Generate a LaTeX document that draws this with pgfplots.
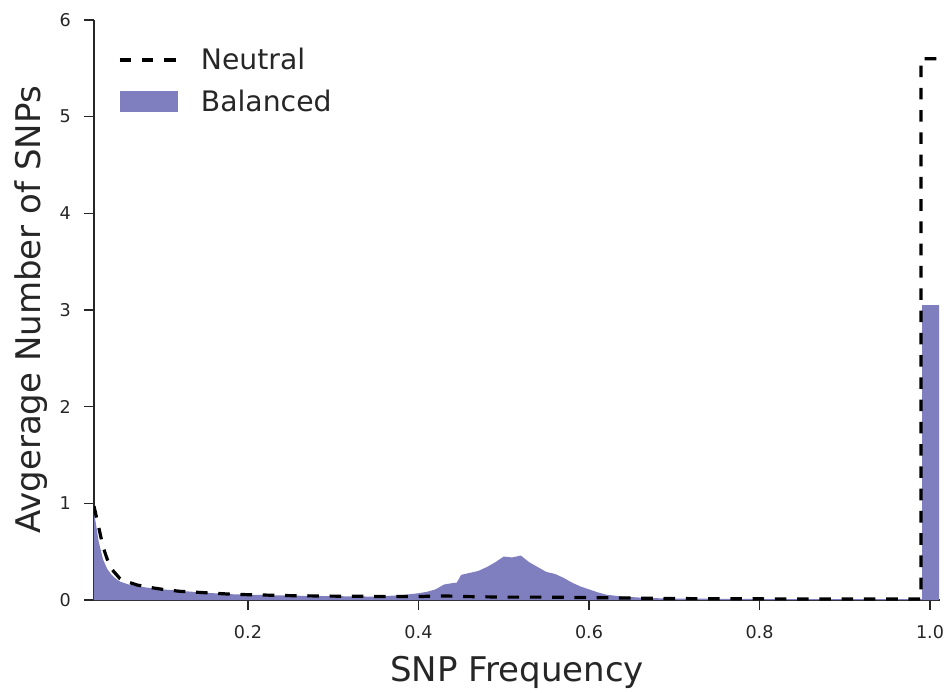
\documentclass[border=0pt]{standalone}
\usepackage{fontspec}
\setmainfont{DejaVu Sans}
\usepackage{pgfplots}
\pgfplotsset{compat=1.18}
\definecolor{txt}{RGB}{38,38,38}
\definecolor{balanced}{RGB}{127,127,191}

\pgfplotsset{
  dashlegend/.style={legend image code/.code={\draw[##1] (0pt,0pt) -- (43.5pt,0pt);}},
  patchlegend/.style={legend image code/.code={\fill[balanced] (0pt,-7.9pt) rectangle (43.5pt,7.9pt);}},
}

\begin{document}
\begin{tikzpicture}
\useasboundingbox (-70.5pt,-69pt) rectangle (643.5pt,450pt);
\begin{axis}[
  scale only axis,
  width=634.5pt, height=435pt,
  xmin=0.0194, xmax=1.0117,
  ymin=0, ymax=6,
  axis lines*=left,
  axis line style={txt, line width=1.4pt},
  tick style={txt, line width=1.1pt},
  tick align=outside,
  major tick length=7.5pt,
  xtick={0.2,0.4,0.6,0.8,1.0},
  xticklabels={0.2,0.4,0.6,0.8,1.0},
  ytick={0,1,2,3,4,5,6},
  yticklabels={0,1,2,3,4,5,6},
  ticklabel style={font=\fontsize{13.2}{15}\selectfont, text=txt, inner sep=0pt},
  xticklabel style={anchor=north, yshift=-11.25pt},
  yticklabel style={anchor=east, xshift=-9.75pt},
  xlabel={SNP Frequency},
  ylabel={Avgerage Number of SNPs},
  label style={font=\fontsize{25.5}{30}\selectfont, text=txt},
  xlabel style={at={(axis description cs:0.5,-0.14)}, anchor=base},
  ylabel style={at={(axis description cs:-0.0638,0.5)}, anchor=base},
  legend style={draw=none, fill=none, inner sep=0pt, outer sep=0pt,
    at={(axis description cs:0.0283,0.956)}, anchor=north west,
    font=\fontsize{21.2}{25}\selectfont, text=txt,
    row sep=9.6pt, column sep=14.3pt},
  legend cell align=left,
  reverse legend,
]

% Balanced: filled histogram outline
\addplot[fill=balanced, draw=none, patchlegend]
  table {
x y
0.0194 0.90
0.02 0.88
0.025 0.60
0.03 0.42
0.035 0.32
0.04 0.26
0.045 0.22
0.05 0.19
0.06 0.16
0.07 0.145
0.08 0.13
0.10 0.11
0.12 0.095
0.15 0.075
0.18 0.06
0.20 0.055
0.25 0.045
0.30 0.04
0.35 0.035
0.36 0.04
0.38 0.05
0.40 0.07
0.41 0.085
0.42 0.11
0.43 0.16
0.44 0.175
0.445 0.18
0.45 0.26
0.46 0.28
0.47 0.30
0.48 0.34
0.49 0.39
0.50 0.45
0.51 0.44
0.52 0.46
0.53 0.39
0.54 0.34
0.55 0.29
0.56 0.27
0.57 0.23
0.58 0.18
0.59 0.14
0.60 0.11
0.61 0.08
0.62 0.055
0.64 0.035
0.67 0.02
0.70 0.015
0.80 0.01
0.98 0.008
0.9906 0.008
0.9906 3.05
1.0106 3.05
1.0106 0
} \closedcycle;
\addlegendentry{Balanced}

% Neutral: dashed line
\addplot[black, line width=2.4pt, dash pattern=on 8.7pt off 8pt, dashlegend]
  table {
x y
0.0194 0.97
0.025 0.75
0.03 0.55
0.035 0.42
0.04 0.32
0.045 0.27
0.05 0.22
0.058 0.19
0.07 0.155
0.085 0.13
0.10 0.11
0.12 0.09
0.15 0.075
0.18 0.06
0.20 0.055
0.25 0.045
0.30 0.04
0.35 0.037
0.40 0.035
0.42 0.042
0.44 0.04
0.46 0.035
0.50 0.03
0.55 0.03
0.60 0.025
0.65 0.02
0.70 0.015
0.80 0.012
0.90 0.01
0.9894 0.01
0.9894 5.6
1.0094 5.6
};
\addlegendentry{Neutral}
\end{axis}
\end{tikzpicture}
\end{document}
